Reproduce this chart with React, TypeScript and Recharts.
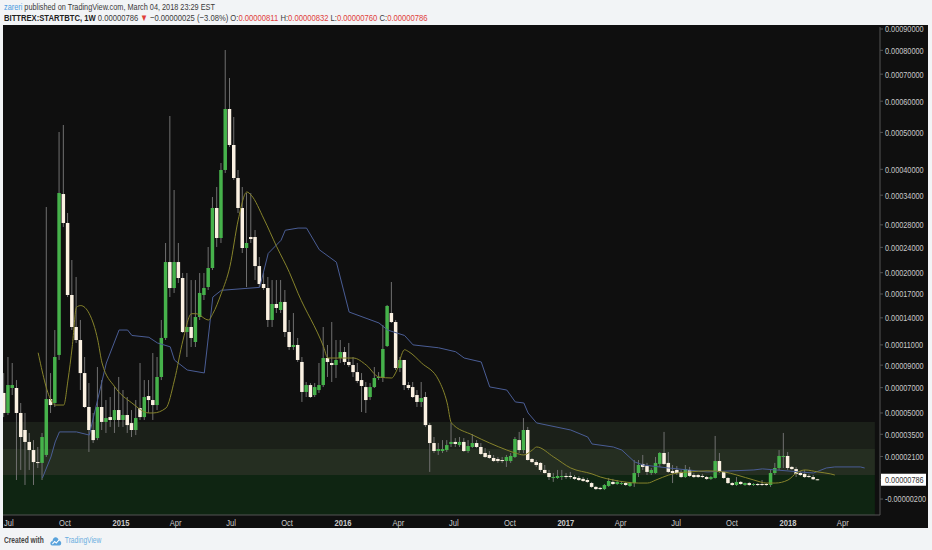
import React from "react";
import { ComposedChart, Bar, Line, XAxis, YAxis, ReferenceArea } from "recharts";

// weekly candles, prices in satoshi (1e-8 BTC)
const START = Date.UTC(2014, 5, 23);
const WEEK = 7 * 864e5;
const C = 10000; // symlog constant of the price scale

const opens = [
  6560, 5000, 6970, 6970, 5000, 3790, 3000, 2490, 1770, 1720, 2190, 6070, 5760, 9980, 34250, 28350, 16870, 12940, 11510, 8270,
  5450, 3790, 3250, 5450, 4350, 4700, 4490, 5220, 4490, 4850, 4270, 3790, 5370, 4700, 6310, 5990, 5600, 7920, 11730, 21620,
  17810, 21620, 19220, 12380, 12940, 11300, 14100, 16870, 17950, 20700, 31300, 25610, 39830, 57350, 46380, 37890, 31300, 23890, 25780, 25780,
  21000, 18370, 17810, 13750, 15700, 14950, 15960, 12380, 10780, 10990, 9300, 6640, 7220, 6390, 6800, 7220, 9680, 9200, 9010, 9680,
  10270, 9300, 9010, 8360, 7650, 7050, 6230, 7050, 7830, 7830, 10880, 14580, 13510, 8730, 9490, 7220, 7050, 6390, 5840, 6230,
  4130, 2930, 2430, 2430, 2490, 2870, 3000, 2800, 3000, 2430, 2680, 2930, 2680, 2310, 2190, 2010, 1950, 1890, 1830, 1830,
  2070, 3120, 2490, 3790, 1950, 1770, 1720, 1320, 1150, 880, 880, 930, 990, 990, 930, 880, 830, 770, 610, 410,
  360, 300, 460, 670, 560, 560, 610, 460, 610, 1150, 1660, 1540, 1150, 1150, 1660, 2310, 1720, 1260, 1320, 1210,
  930, 1320, 1040, 1040, 990, 930, 830, 880, 1830, 1210, 880, 610, 510, 670, 510, 610, 510, 560, 560, 560,
  510, 1150, 1430, 2070, 2130, 1490, 1370, 1150, 1100, 990, 930, 811,
];
const highs = [
  8270, 9780, 9200, 7650, 5760, 5000, 3590, 3120, 2680, 3590, 31500, 8270, 12600, 50120, 52230, 30290, 21940, 19370, 13750, 9780,
  7390, 5000, 8820, 7650, 5990, 6230, 7050, 7920, 6800, 6230, 5220, 5990, 9200, 7650, 7650, 10170, 9780, 13750, 24740, 55060,
  35140, 24740, 19950, 19950, 18930, 18930, 19950, 19950, 24060, 33600, 35810, 41580, 80150, 68500, 54740, 39830, 35810, 34470, 34470, 27040,
  22410, 19950, 19370, 18930, 18930, 18930, 17540, 13750, 14580, 11730, 9780, 7480, 7390, 7390, 9200, 12940, 10990, 13510, 11510, 11510,
  10780, 11200, 9780, 9200, 8270, 7480, 7390, 8820, 8360, 13170, 15580, 18650, 13750, 9780, 9490, 7480, 7480, 6800, 7480, 6640,
  4270, 3320, 2930, 3120, 3120, 4270, 3250, 3320, 3250, 3120, 3520, 3120, 2930, 2610, 2430, 2190, 2070, 2070, 2190, 2310,
  3320, 3660, 4630, 4000, 2010, 1890, 1770, 1600, 1320, 1150, 1320, 1320, 1150, 1210, 1040, 990, 930, 880, 670, 460,
  410, 560, 880, 830, 770, 720, 670, 670, 1890, 1890, 2190, 1720, 1430, 2070, 2370, 3660, 2370, 1600, 1540, 1320,
  1600, 1490, 1150, 1100, 1100, 990, 990, 3390, 2310, 1260, 930, 670, 930, 720, 640, 670, 610, 610, 770, 610,
  1320, 1720, 2490, 3590, 2370, 1540, 1490, 1260, 1320, 1100, 1040, 832,
];
const lows = [
  4700, 4850, 6390, 770, 1320, 510, 1320, 510, 1430, 770, 2070, 5000, 5450, 9490, 27600, 16600, 12600, 11200, 6800, 5370,
  2370, 2930, 3120, 3790, 3590, 4000, 3590, 4000, 4000, 3590, 3320, 3450, 4490, 4490, 5000, 4490, 5220, 7650, 11510, 16600,
  17140, 18510, 12270, 9780, 10780, 10780, 13750, 16210, 17540, 20400, 24060, 24740, 39090, 45820, 37420, 30290, 23060, 17950, 24740, 18930,
  17950, 17540, 12940, 12940, 14580, 14580, 11830, 10480, 10480, 9300, 5840, 6230, 6150, 6230, 6560, 7050, 7920, 7480, 7830, 9200,
  9010, 8820, 7920, 7390, 5070, 5000, 5990, 6970, 7650, 7480, 10780, 13400, 8550, 8360, 6800, 6800, 6150, 5450, 5450, 4000,
  1210, 2310, 2190, 2310, 2370, 2680, 2680, 2680, 2370, 2310, 2610, 2610, 2190, 2010, 1950, 1770, 1720, 1720, 1490, 1720,
  2010, 2310, 2310, 1860, 1720, 1490, 1210, 1120, 770, 670, 830, 770, 830, 830, 770, 720, 670, 610, 360, 250,
  250, 250, 410, 510, 510, 510, 460, 410, 410, 930, 1320, 1040, 1040, 1100, 1490, 1600, 1150, 610, 1040, 880,
  880, 930, 880, 880, 880, 770, 770, 850, 1150, 830, 560, 460, 460, 510, 460, 460, 460, 460, 460, 460,
  410, 1040, 1320, 1430, 1320, 1320, 930, 990, 880, 880, 770, 760,
];
const closes = [
  5000, 7220, 7220, 5000, 3320, 3000, 2490, 1770, 1720, 3320, 6070, 5600, 9780, 34470, 28350, 16870, 12940, 11510, 8270, 5450,
  3790, 3120, 5450, 4350, 4630, 4490, 5220, 4490, 4850, 4130, 3790, 4630, 4700, 6230, 5990, 5600, 7920, 11730, 21620, 17810,
  21620, 19220, 12380, 12940, 11730, 14100, 17140, 17810, 20700, 31300, 25610, 39830, 57350, 46380, 37890, 31300, 23890, 24740, 25430, 21000,
  18370, 17810, 13750, 15700, 15200, 15960, 12380, 10780, 10990, 9490, 6640, 7220, 6230, 7050, 7220, 9680, 9300, 9010, 9490, 10270,
  9300, 9010, 8360, 7570, 7140, 5990, 7050, 7830, 7920, 10580, 15450, 13510, 8730, 9490, 7220, 6970, 6230, 5840, 6150, 4130,
  2930, 2430, 2550, 2550, 2800, 3000, 2870, 3000, 2430, 2740, 2930, 2680, 2250, 2070, 2010, 1830, 1830, 1830, 2070, 2130,
  3190, 2490, 3790, 1890, 1770, 1600, 1320, 1150, 930, 930, 990, 990, 930, 930, 830, 770, 720, 670, 410, 300,
  300, 510, 720, 560, 670, 610, 510, 610, 1150, 1600, 1490, 1210, 1320, 1720, 2310, 1660, 1210, 1150, 1150, 930,
  1370, 990, 930, 930, 930, 830, 930, 1830, 1210, 880, 610, 510, 670, 560, 610, 510, 560, 510, 510, 510,
  1150, 1430, 2130, 2130, 1430, 1370, 1100, 1040, 930, 930, 811, 786,
];

// olive moving average (drawn a few weeks ahead of the last bar)
const yellowWeeks = [
  8, 11, 12, 14, 15, 16, 17, 18, 20, 22, 23, 26, 30, 34, 35, 38, 40, 42, 44, 45, 48, 49, 51, 53, 55, 57, 58, 61, 64, 67,
  69, 75, 76, 82, 85, 88, 91, 92, 94, 95, 98, 102, 104, 105, 110, 114, 118, 120, 122, 124, 125, 129, 133, 138, 140, 143, 149, 151, 153, 156,
  158, 161, 165, 169, 172, 176, 179, 181, 184, 186, 188, 191, 194, 195,
];
const yellowSats = [
  10200, 5990, 5600, 5600, 7650, 10800, 15300, 15500, 14500, 11500, 9200, 7060, 5760, 5000, 5000, 5370, 7650, 11500, 14500, 14500,
  13750, 14500, 17100, 20900, 29100, 34700, 34000, 29100, 24100, 20000, 17100, 10800, 9680, 9680, 9010, 7920, 7830, 8370, 10500, 10300,
  9200, 7650, 5760, 4280, 3450, 2930, 2490, 2310, 2190, 2490, 2680, 2070, 1430, 1100, 930, 770, 610, 610, 770, 1040,
  1150, 1210, 1270, 1210, 1040, 770, 610, 610, 770, 1150, 1320, 1210, 1100, 1040,
];

// blue stepped line (displaced forward)
const blueWeeks = [
  9, 11, 12, 13, 17, 20, 24, 27, 29, 30, 34, 36, 39, 40, 43, 47, 49, 51, 60, 62, 65, 66, 69, 71, 74, 78, 81, 88, 90, 94,
  96, 102, 106, 108, 112, 114, 118, 120, 122, 123, 125, 133, 137, 138, 143, 145, 148, 150, 156, 165, 176, 178, 190, 193, 195, 201, 202,
];
const blueSats = [
  880, 2070, 3000, 3660, 3660, 3450, 9200, 12600, 12600, 12000, 11800, 11200, 10800, 9480, 8550, 8280, 16600, 17500, 17900, 23000,
  25200, 27000, 27400, 27400, 23600, 21600, 14700, 13400, 12600, 12000, 11000, 10700, 10300, 9680, 9300, 7060, 6800, 5840, 5760, 5000,
  4280, 3790, 3320, 2870, 2680, 2490, 1780, 1600, 1430, 1210, 1320, 1380, 1150, 1430, 1490, 1490, 1430,
];

const priceTicks = [90000, 80000, 70000, 60000, 50000, 40000, 34000, 28000, 24000, 20000, 17000, 14000, 11000, 9000, 7000, 5000, 3500, 2100, 786, -200];
const timeTickDates = [
  "2014-07-01", "2014-10-01", "2015-01-01", "2015-04-01", "2015-07-01", "2015-10-01", "2016-01-01", "2016-04-01",
  "2016-07-01", "2016-10-01", "2017-01-01", "2017-04-01", "2017-07-01", "2017-10-01", "2018-01-01", "2018-04-01",
];
const timeTickLabels = ["Jul", "Oct", "2015", "Apr", "Jul", "Oct", "2016", "Apr", "Jul", "Oct", "2017", "Apr", "Jul", "Oct", "2018", "Apr"];
const zoneLevels = [4350, 2550, 1040];

const FONT = "'Liberation Sans', Arial, sans-serif";
const GREEN = "#46b24b";
const CREAM = "#fbf1e2";
const WICK = "#707070";
const LAST = closes[closes.length - 1];

const tf = (s: number) => Math.sign(s) * Math.log1p(Math.abs(s) / C);
const untf = (t: number) => Math.sign(t) * C * Math.expm1(Math.abs(t));
const fmt = (s: number) => (s / 1e8).toFixed(8);
const weekOf = (d: string) => (Date.parse(d) - START) / WEEK;

const timeTicks = timeTickDates.map(weekOf);

const rows: any[] = Array.from({ length: 203 }, (_, w) => ({ w }));
opens.forEach((o, i) => {
  Object.assign(rows[i], { o, h: highs[i], l: lows[i], c: closes[i], range: [tf(lows[i]), tf(highs[i])] });
});
yellowWeeks.forEach((w, k) => (rows[w].yellow = tf(yellowSats[k])));
blueWeeks.forEach((w, k) => (rows[w].blue = tf(blueSats[k])));

const X_MIN = -0.25;
const X_MAX = 205.6;
const Y_MIN = -0.0986;
const Y_MAX = 2.3125;

function Candle(props: any) {
  const { x, y, width, height, payload } = props;
  if (!payload || payload.o == null) return <g />;
  const top = Math.min(y, y + height);
  const bot = Math.max(y, y + height);
  const hiT = tf(payload.h);
  const span = hiT - tf(payload.l) || 1;
  const py = (v: number) => top + ((hiT - tf(v)) / span) * (bot - top);
  const yo = py(payload.o);
  const yc = py(payload.c);
  const up = payload.c >= payload.o;
  const cx = x + width / 2;
  return (
    <g>
      <line x1={cx} x2={cx} y1={top} y2={bot} stroke={WICK} strokeWidth={1} />
      <rect x={x} y={Math.min(yo, yc)} width={width} height={Math.max(Math.abs(yc - yo), 1)} fill={up ? GREEN : CREAM} />
    </g>
  );
}

function PriceTick(props: any) {
  const { x, y, payload } = props;
  const sat = Math.round(untf(payload.value));
  const isLast = sat === LAST;
  return (
    <g>
      {isLast && <rect x={x - 4} y={y - 6} width={45} height={12} fill="#ffffff" />}
      <text transform={`translate(${x},${y + 3.4}) scale(0.77,1)`} fill={isLast ? "#333" : "#c9c9c9"} fontSize={9.5} fontFamily={FONT}>
        {fmt(sat)}
      </text>
    </g>
  );
}

function TimeTick(props: any) {
  const { x, y, payload } = props;
  let k = 0;
  timeTicks.forEach((t, i) => {
    if (Math.abs(t - payload.value) < Math.abs(timeTicks[k] - payload.value)) k = i;
  });
  const label = timeTickLabels[k];
  const year = /^\d{4}$/.test(label);
  return (
    <text
      transform={`translate(${x},${y + 11}) scale(0.8,1)`}
      textAnchor="middle"
      fill="#c9c9c9"
      fontSize={9.5}
      fontWeight={year ? 700 : 400}
      fontFamily={FONT}
    >
      {label}
    </text>
  );
}

const red = { color: "#e0403a" };
const textLine = (top: number, squeeze: number, size = 9.5): React.CSSProperties => ({
  position: "absolute",
  left: 4,
  top,
  fontSize: size,
  color: "#3a3a3a",
  whiteSpace: "nowrap",
  transform: `scaleX(${squeeze})`,
  transformOrigin: "0 0",
  lineHeight: "11px",
});

export default function App() {
  return (
    <div style={{ position: "fixed", left: 0, top: 0, width: 932, height: 550, background: "#f2f4f6", overflow: "hidden", fontFamily: FONT }}>
      <div style={textLine(1, 0.77)}>
        <span style={{ color: "#4a9be0" }}>zareri</span> published on TradingView.com, March 04, 2018 23:29 EST
      </div>
      <div style={textLine(12, 0.805)}>
        <b style={{ color: "#222" }}>BITTREX:STARTBTC, 1W</b> {fmt(LAST)} <span style={red}>▼</span> −0.00000025 (−3.08%) O:
        <span style={red}>{fmt(opens[opens.length - 1])}</span> H:<span style={red}>{fmt(highs[highs.length - 1])}</span> L:
        <span style={red}>{fmt(lows[lows.length - 1])}</span> C:<span style={red}>{fmt(LAST)}</span>
      </div>

      <div style={{ position: "absolute", left: 3, top: 25, width: 925, height: 503, background: "#0f0f0f" }} />
      <div style={{ position: "absolute", left: 0, top: 15 }}>
        <ComposedChart width={932} height={515} data={rows} margin={{ top: 12, right: 0, bottom: 0, left: 3 }}>
          <XAxis
            type="number"
            dataKey="w"
            domain={[X_MIN, X_MAX]}
            allowDataOverflow
            ticks={timeTicks}
            interval={0}
            tick={<TimeTick />}
            tickLine={false}
            tickSize={0}
            tickMargin={0}
            height={15}
            axisLine={{ stroke: "#555" }}
          />
          <YAxis
            orientation="right"
            type="number"
            domain={[Y_MIN, Y_MAX]}
            allowDataOverflow
            ticks={priceTicks.map(tf)}
            interval={0}
            tick={<PriceTick />}
            tickSize={3}
            tickMargin={2}
            tickLine={{ stroke: "#555" }}
            axisLine={{ stroke: "#555" }}
            width={52}
          />
          <ReferenceArea x1={X_MIN} x2={204.4} y1={tf(zoneLevels[1])} y2={tf(zoneLevels[0])} fill="#1b2019" fillOpacity={1} stroke="none" />
          <ReferenceArea x1={X_MIN} x2={204.4} y1={tf(zoneLevels[2])} y2={tf(zoneLevels[1])} fill="#252e21" fillOpacity={1} stroke="none" />
          <ReferenceArea x1={X_MIN} x2={204.4} y1={Y_MIN} y2={tf(zoneLevels[2])} fill="#0f2512" fillOpacity={1} stroke="none" />
          <Bar dataKey="range" barSize={3.5} shape={<Candle />} isAnimationActive={false} />
          <Line dataKey="blue" type="linear" stroke="#4a5d95" strokeWidth={1} dot={false} connectNulls isAnimationActive={false} />
          <Line dataKey="yellow" type="monotone" stroke="#86832b" strokeWidth={1} dot={false} connectNulls isAnimationActive={false} />
        </ComposedChart>
      </div>

      <div style={{ ...textLine(535, 0.78, 8.5), color: "#444", fontWeight: 600, display: "flex", alignItems: "center" }}>
        <span>Created with</span>
        <svg width={15} height={10} viewBox="0 0 15 10" style={{ marginLeft: 8, marginRight: 4 }}>
          <path
            d="M3 9.5 C0.8 9.5 0 8 0.6 6.6 C1.2 5.4 2.4 5.2 3 5.4 C3.4 2.6 5.4 1 7.6 1.2 C9.8 1.4 11 3 11.2 4.6 C13.2 4.6 14.6 6 14.4 7.6 C14.2 8.8 13.2 9.5 12 9.5 Z"
            fill="#5aa3dc"
          />
          <path d="M3 8 L6 5.5 L8 7 L11.5 4" stroke="#ffffff" strokeWidth={1.1} fill="none" />
        </svg>
        <span style={{ color: "#6aaee0", fontWeight: 400 }}>TradingView</span>
      </div>
    </div>
  );
}
